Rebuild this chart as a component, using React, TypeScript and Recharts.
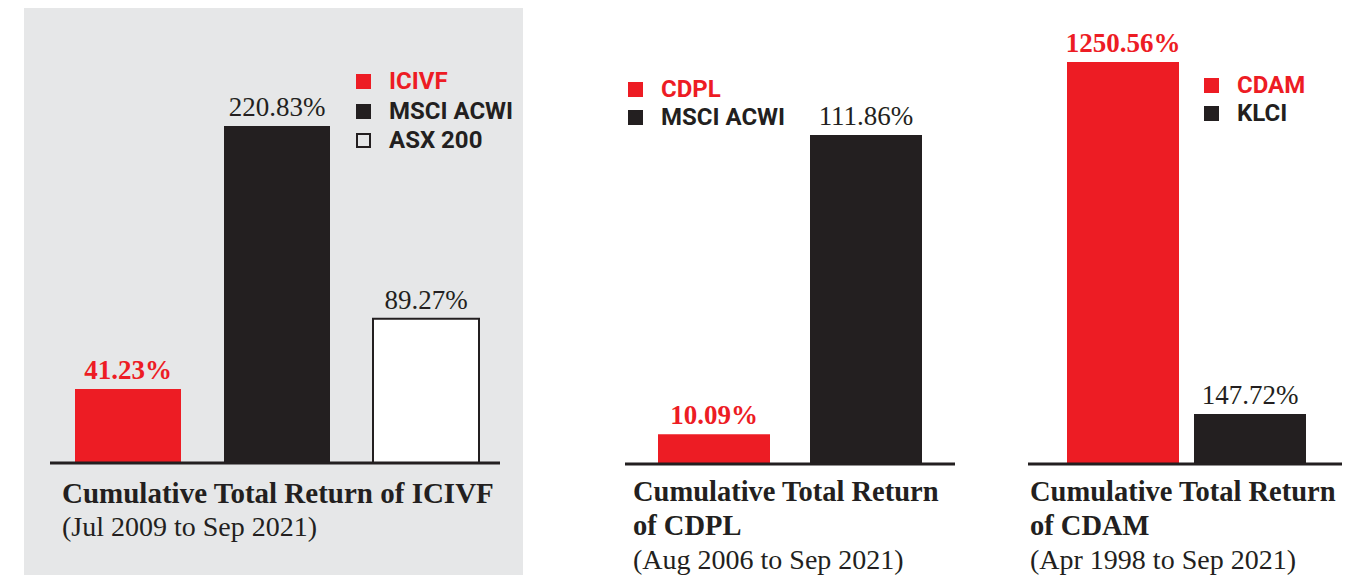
import { Bar, BarChart, Cell, LabelList, Legend, XAxis, YAxis } from "recharts";

const RED = "#ed1c24";
const BLACK = "#231f20";
const PANEL_BG = "#e6e7e8";
const SERIF = "'Liberation Serif', 'Times New Roman', serif";
const SANS = "Roboto, 'Liberation Sans', Arial, sans-serif";

// ICIVF panel
const ICIVF_NAMES = ["ICIVF", "MSCI ACWI", "ASX 200"];
const ICIVF_VALUES = [41.23, 220.83, 89.27];
const ICIVF_LABELS = ["41.23%", "220.83%", "89.27%"];
const ICIVF_TITLE = ["Cumulative Total Return of ICIVF"];
const ICIVF_PERIOD = "(Jul 2009 to Sep 2021)";

// CDPL panel
const CDPL_NAMES = ["CDPL", "MSCI ACWI"];
const CDPL_VALUES = [10.09, 111.86];
const CDPL_LABELS = ["10.09%", "111.86%"];
const CDPL_TITLE = ["Cumulative Total Return", "of CDPL"];
const CDPL_PERIOD = "(Aug 2006 to Sep 2021)";

// CDAM panel
const CDAM_NAMES = ["CDAM", "KLCI"];
const CDAM_VALUES = [1250.56, 147.72];
const CDAM_LABELS = ["1250.56%", "147.72%"];
const CDAM_TITLE = ["Cumulative Total Return", "of CDAM"];
const CDAM_PERIOD = "(Apr 1998 to Sep 2021)";

const AXIS_H = 2;

type Kind = "fund" | "index" | "outline";

type Item = { name: string; value: number; label: string; kind: Kind };

type PanelProps = {
  items: Item[];
  box: { left: number; top: number; width: number; height: number };
  plot: { x0: number; x1: number; y0: number; y1: number };
  pad: { left: number; right: number };
  domain: [number, number];
  barSize: number;
  legend: { left: number; top: number; row: number };
  title: string[];
  titleSize: number;
  period: string;
  titleAt: { left: number; top: number };
  bg?: string;
};

function build(names: string[], values: number[], labels: string[], kinds: Kind[]): Item[] {
  return names.map((name, i) => ({ name, value: values[i], label: labels[i], kind: kinds[i] }));
}

function fillOf(kind: Kind) {
  if (kind === "fund") return RED;
  if (kind === "outline") return "#ffffff";
  return BLACK;
}

function LegendBox({ items, row }: { items: Item[]; row: number }) {
  return (
    <div>
      {items.map((it) => (
        <div key={it.name} style={{ display: "flex", alignItems: "center", height: row }}>
          <span
            style={{
              display: "inline-block",
              width: 15,
              height: 15,
              boxSizing: "border-box",
              background: it.kind === "outline" ? "transparent" : fillOf(it.kind),
              border: it.kind === "outline" ? `2px solid ${BLACK}` : "none",
              marginRight: 18,
            }}
          />
          <span
            style={{
              fontFamily: SANS,
              fontWeight: 700,
              fontSize: 24,
              color: it.kind === "fund" ? RED : BLACK,
              lineHeight: `${row}px`,
            }}
          >
            {it.name}
          </span>
        </div>
      ))}
    </div>
  );
}

function Panel(p: PanelProps) {
  const { items, box, plot } = p;
  const axisMin = p.domain[0];
  const margin = {
    top: plot.y0 - box.top,
    left: plot.x0 - box.left,
    right: box.left + box.width - plot.x1,
    bottom: box.top + box.height - plot.y1 - AXIS_H,
  };

  const renderLabel = (props: any) => {
    const it = items[props.index];
    const x = Number(props.x) + Number(props.width) / 2;
    const y = Number(props.y) - 10;
    return (
      <text
        x={x}
        y={y}
        textAnchor="middle"
        fontFamily={SERIF}
        fontSize={27}
        fontWeight={it.kind === "fund" ? 700 : 400}
        fill={it.kind === "fund" ? RED : BLACK}
      >
        {it.label}
      </text>
    );
  };

  return (
    <div
      style={{
        position: "absolute",
        left: box.left,
        top: box.top,
        width: box.width,
        height: box.height,
        background: p.bg || "transparent",
      }}
    >
      <BarChart width={box.width} height={box.height} data={items} margin={margin}>
        <XAxis
          dataKey="name"
          height={AXIS_H}
          tick={false}
          tickLine={false}
          padding={p.pad}
          axisLine={{ stroke: BLACK, strokeWidth: 3 }}
        />
        <YAxis type="number" hide domain={p.domain} allowDataOverflow />
        <Legend
          layout="vertical"
          align="center"
          verticalAlign="middle"
          wrapperStyle={{ left: p.legend.left, top: p.legend.top, width: "auto", height: "auto" }}
          content={() => <LegendBox items={items} row={p.legend.row} />}
        />
        <Bar
          dataKey={(d: Item) => [axisMin, d.value]}
          barSize={p.barSize}
          isAnimationActive={false}
        >
          {items.map((it) => (
            <Cell
              key={it.name}
              fill={fillOf(it.kind)}
              stroke={it.kind === "outline" ? BLACK : "none"}
              strokeWidth={it.kind === "outline" ? 2 : 0}
            />
          ))}
          <LabelList content={renderLabel} />
        </Bar>
      </BarChart>
      <div
        style={{
          position: "absolute",
          left: p.titleAt.left - box.left,
          top: p.titleAt.top - box.top,
          color: BLACK,
          fontFamily: SERIF,
          whiteSpace: "nowrap",
        }}
      >
        {p.title.map((t) => (
          <div key={t} style={{ fontWeight: 700, fontSize: p.titleSize, lineHeight: "34px" }}>
            {t}
          </div>
        ))}
        <div style={{ fontWeight: 400, fontSize: 28, lineHeight: "34px" }}>{p.period}</div>
      </div>
    </div>
  );
}

export default function App() {
  const icivf = build(ICIVF_NAMES, ICIVF_VALUES, ICIVF_LABELS, ["fund", "index", "outline"]);
  const cdpl = build(CDPL_NAMES, CDPL_VALUES, CDPL_LABELS, ["fund", "index"]);
  const cdam = build(CDAM_NAMES, CDAM_VALUES, CDAM_LABELS, ["fund", "index"]);

  return (
    <div
      style={{
        position: "absolute",
        left: 0,
        top: 0,
        width: 1352,
        height: 575,
        background: "#ffffff",
        overflow: "hidden",
      }}
    >
      <Panel
        items={icivf}
        bg={PANEL_BG}
        box={{ left: 24, top: 8, width: 499, height: 567 }}
        plot={{ x0: 50, x1: 500, y0: 60, y1: 463 }}
        pad={{ left: 3, right: 0 }}
        domain={[-9.3, 266]}
        barSize={106}
        legend={{ left: 332, top: 59, row: 29.5 }}
        title={ICIVF_TITLE}
        titleSize={29}
        period={ICIVF_PERIOD}
        titleAt={{ left: 62, top: 476 }}
      />
      <Panel
        items={cdpl}
        box={{ left: 600, top: 0, width: 380, height: 575 }}
        plot={{ x0: 625, x1: 955, y0: 60, y1: 464 }}
        pad={{ left: 13, right: 13 }}
        domain={[0, 137.4]}
        barSize={112}
        legend={{ left: 28, top: 75, row: 28 }}
        title={CDPL_TITLE}
        titleSize={28.5}
        period={CDPL_PERIOD}
        titleAt={{ left: 633, top: 475 }}
      />
      <Panel
        items={cdam}
        box={{ left: 1000, top: 0, width: 352, height: 575 }}
        plot={{ x0: 1028, x1: 1342, y0: 40, y1: 464 }}
        pad={{ left: 31, right: 29 }}
        domain={[-8.9, 1319.4]}
        barSize={112}
        legend={{ left: 204, top: 72, row: 27.5 }}
        title={CDAM_TITLE}
        titleSize={28.5}
        period={CDAM_PERIOD}
        titleAt={{ left: 1030, top: 475 }}
      />
    </div>
  );
}
